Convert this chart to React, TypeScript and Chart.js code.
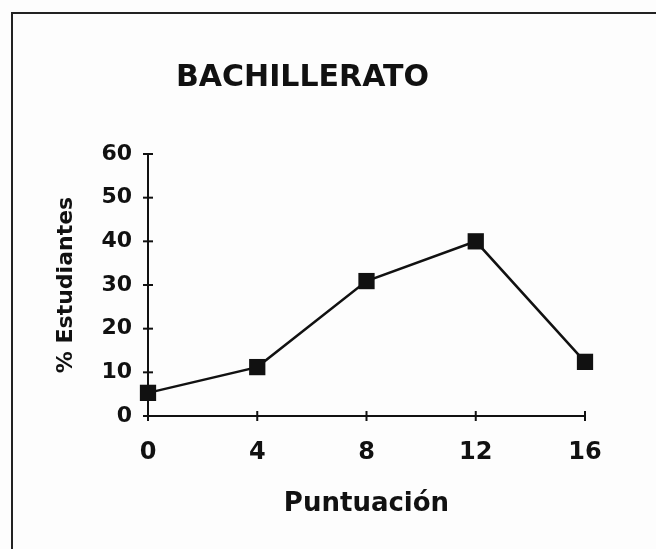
import React, { useEffect, useRef } from "react";
import { Chart, registerables } from "chart.js";

Chart.register(...registerables);

const chartTitle = "BACHILLERATO";
const xAxisTitle = "Puntuación";
const yAxisTitle = "% Estudiantes";
const scores = [0, 4, 8, 12, 16];
const studentPercent = [5.3, 11.2, 30.9, 40, 12.4];
const yMin = 0;
const yMax = 60;
const yStep = 10;
const xMin = 0;
const xMax = 16;
const xStep = 4;

const FONT = "'DejaVu Sans', 'Liberation Sans', Arial, sans-serif";

const crossTicks = {
  id: "crossTicks",
  afterDraw(chart: any) {
    const ctx = chart.ctx;
    const xs = chart.scales.x;
    const ys = chart.scales.y;
    ctx.save();
    ctx.strokeStyle = "#111";
    ctx.lineWidth = 2;
    const ax = xs.getPixelForValue(xMin);
    const ay = ys.getPixelForValue(yMin);
    ys.ticks.forEach((t: any) => {
      const py = ys.getPixelForValue(t.value);
      ctx.beginPath();
      ctx.moveTo(ax - 5, py);
      ctx.lineTo(ax + 5, py);
      ctx.stroke();
    });
    xs.ticks.forEach((t: any) => {
      const px = xs.getPixelForValue(t.value);
      ctx.beginPath();
      ctx.moveTo(px, ay - 5);
      ctx.lineTo(px, ay + 5);
      ctx.stroke();
    });
    ctx.restore();
  },
};

const frame = {
  id: "frame",
  beforeDraw(chart: any) {
    const ctx = chart.ctx;
    ctx.save();
    ctx.fillStyle = "#fdfdfd";
    ctx.fillRect(0, 0, chart.width, chart.height);
    ctx.strokeStyle = "#222";
    ctx.lineWidth = 2;
    ctx.beginPath();
    ctx.moveTo(12, chart.height);
    ctx.lineTo(12, 13);
    ctx.lineTo(chart.width, 13);
    ctx.stroke();
    ctx.restore();
  },
};

export default function App() {
  const ref = useRef<HTMLCanvasElement | null>(null);

  useEffect(() => {
    if (!ref.current) return;
    const chart = new Chart(ref.current, {
      type: "line",
      data: {
        datasets: [
          {
            data: scores.map((x, i) => ({ x, y: studentPercent[i] })),
            borderColor: "#111",
            borderWidth: 2.5,
            backgroundColor: "#111",
            pointStyle: "rect",
            pointRadius: 11.5,
            pointBorderWidth: 0,
            pointBackgroundColor: "#111",
            tension: 0,
            clip: false,
          },
        ],
      },
      plugins: [frame, crossTicks],
      options: {
        animation: false,
        responsive: false,
        layout: { padding: { left: 20, right: 71, top: 0, bottom: 0 } },
        plugins: {
          legend: { display: false },
          tooltip: { enabled: false },
          title: {
            display: true,
            text: chartTitle,
            color: "#111",
            font: { family: FONT, size: 30, weight: "bold" },
            padding: { top: 60, bottom: 58 },
          },
        },
        scales: {
          x: {
            type: "linear",
            min: xMin,
            max: xMax,
            afterFit: (s: any) => {
              s.height = 133;
            },
            grid: { display: false, drawTicks: false, tickLength: 0 },
            border: { display: true, color: "#111", width: 2 },
            ticks: {
              stepSize: xStep,
              padding: 22,
              color: "#111",
              font: { family: FONT, size: 24, weight: "bold" },
            },
            title: {
              display: true,
              text: xAxisTitle,
              color: "#111",
              font: { family: FONT, size: 26, weight: "bold" },
              padding: { top: 4, bottom: 29 },
            },
          },
          y: {
            min: yMin,
            max: yMax,
            afterFit: (s: any) => {
              s.width = 128;
            },
            grid: { display: false, drawTicks: false, tickLength: 0 },
            border: { display: true, color: "#111", width: 2 },
            ticks: {
              stepSize: yStep,
              padding: 16,
              color: "#111",
              font: { family: FONT, size: 22, weight: "bold" },
            },
            title: {
              display: true,
              text: yAxisTitle,
              color: "#111",
              font: { family: FONT, size: 22, weight: "bold" },
              padding: { top: 33, bottom: 4 },
            },
          },
        },
      },
    });
    return () => chart.destroy();
  }, []);

  return (
    <div style={{ position: "absolute", left: 0, top: 0, width: 656, height: 549 }}>
      <canvas ref={ref} width={656} height={549} style={{ display: "block" }} />
    </div>
  );
}
